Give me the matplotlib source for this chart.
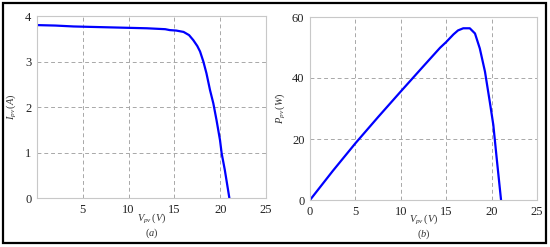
import matplotlib
matplotlib.use("Agg")
import matplotlib.pyplot as plt
from matplotlib.patches import Rectangle

# I-V curve data
v_iv = [0.0, 2.0, 4.0, 6.0, 8.0, 10.0, 12.0, 14.0, 14.5, 15.2, 16.0, 16.6, 17.06, 17.5, 17.8, 18.16, 18.5, 18.89, 19.25, 19.6, 19.98, 20.16, 20.5, 21.0]
i_iv = [3.80, 3.79, 3.77, 3.76, 3.75, 3.74, 3.73, 3.71, 3.69, 3.68, 3.65, 3.58, 3.47, 3.34, 3.22, 3.00, 2.74, 2.37, 2.08, 1.71, 1.27, 0.98, 0.62, 0.0]

# P-V curve data
v_pv = [0.0, 2.5, 5.0, 7.5, 10.0, 12.5, 14.32, 15.0, 15.8, 16.3, 16.88, 17.6, 18.17, 18.7, 19.27, 19.8, 20.19, 20.56, 21.04]
p_pv = [0.0, 9.5, 18.6, 27.2, 35.6, 43.9, 49.9, 51.8, 54.3, 55.6, 56.3, 56.3, 54.6, 49.7, 42.1, 32.2, 24.6, 13.7, 0.0]

xticks_a = [5, 10, 15, 20, 25]
yticks_a = [0, 1, 2, 3, 4]
xticks_b = [0, 5, 10, 15, 20, 25]
yticks_b = [0, 20, 40, 60]

plt.rcParams['font.family'] = ['Liberation Serif', 'DejaVu Serif']
plt.rcParams['mathtext.fontset'] = 'custom'
plt.rcParams['mathtext.rm'] = 'Liberation Serif'
plt.rcParams['mathtext.it'] = 'Liberation Serif:italic'

W, H = 550, 247
fig = plt.figure(figsize=(5.5, 2.47), dpi=100)
fig.patch.set_facecolor('white')

ax1 = fig.add_axes([37/W, 1-198/H, (266-37)/W, (198-16)/H])
ax2 = fig.add_axes([310/W, 1-200/H, (537-310)/W, (200-17)/H])

def style(ax):
    for s in ax.spines.values():
        s.set_color('#c8c8c8')
        s.set_linewidth(0.8)
    ax.grid(True, linestyle=(0, (4, 3)), color='#a8a8a8', linewidth=0.7)
    ax.tick_params(length=0, labelsize=9, pad=4, colors='#222222')

lab = dict(fontsize=7.5, color='#333333')

ax1.plot(v_iv, i_iv, color='#0000ff', linewidth=1.6)
ax1.set_xlim(0, 25)
ax1.set_ylim(0, 4)
ax1.set_xticks(xticks_a)
ax1.set_yticks(yticks_a)
style(ax1)
ax1.set_ylabel(r'$I_{pv}\,(A)$', **lab)
ax1.yaxis.set_label_coords((18-37)/229, 0.5)
fig.text((37+266)/2/W, 1-218/H, r'$V_{pv}\,(V)$', ha='center', va='center', **lab)
fig.text((37+266)/2/W, 1-233/H, r'$(a)$', ha='center', va='center', **lab)

ax2.plot(v_pv, p_pv, color='#0000ff', linewidth=1.6)
ax2.set_xlim(0, 25)
ax2.set_ylim(0, 60)
ax2.set_xticks(xticks_b)
ax2.set_yticks(yticks_b)
style(ax2)
ax2.set_ylabel(r'$P_{pv}\,(W)$', **lab)
ax2.yaxis.set_label_coords((287-310)/227, 0.5)
fig.text((310+537)/2/W, 1-219/H, r'$V_{pv}\,(V)$', ha='center', va='center', **lab)
fig.text((310+537)/2/W, 1-234/H, r'$(b)$', ha='center', va='center', **lab)

fig.add_artist(Rectangle((3/W, 1-243/H), 543/W, 240/H, transform=fig.transFigure,
                         fill=False, edgecolor='black', linewidth=1.6))

fig.savefig('out.png', dpi=100)
